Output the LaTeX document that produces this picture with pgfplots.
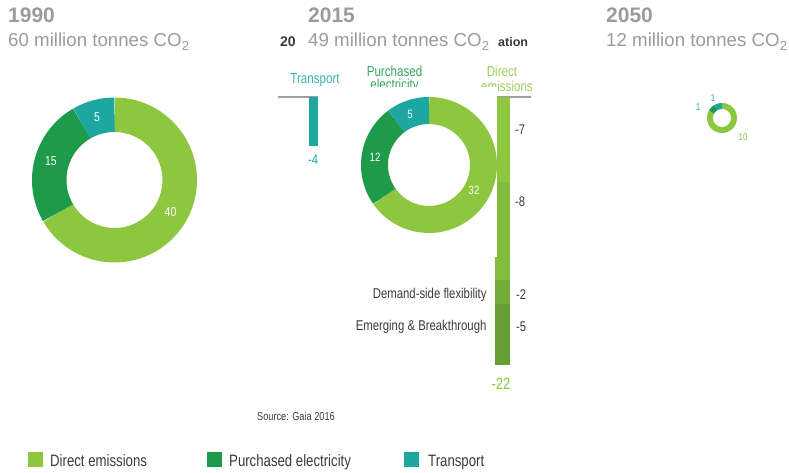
\documentclass[border=0pt]{standalone}
\usepackage{pgfplots}
\pgfplotsset{compat=1.18}
\usepackage{fontspec}
\setmainfont{Liberation Sans}
\newfontfamily\cond[FakeStretch=0.8]{Liberation Sans}
\definecolor{lg}{HTML}{8DC63F}
\definecolor{dg}{HTML}{1E9B4A}
\definecolor{tl}{HTML}{1CA7A1}
\definecolor{tgrey}{HTML}{9B9B9B}
\definecolor{dark}{HTML}{3A3A3A}
\definecolor{wA}{HTML}{8DC63F}
\definecolor{wB}{HTML}{81BC3C}
\definecolor{wC}{HTML}{73AD38}
\definecolor{wD}{HTML}{66A034}
\pgfplotsset{pix/.style={scale only axis, width=789pt, height=473pt,
  xmin=0, xmax=789, ymin=0, ymax=473, y dir=reverse,
  axis lines=none, clip=false, at={(0pt,0pt)}, anchor=south west}}
% donut segment: cx cy r width start end colour
\newcommand{\seg}[7]{\addplot[draw=#7, line width=#4pt, domain=#5:#6, samples=60] ({#1+#3*sin(x)},{#2-#3*cos(x)});}
\newcommand{\fs}[1]{\fontsize{#1}{#1}\selectfont}
\begin{document}
\begin{tikzpicture}
\useasboundingbox (0,0) rectangle (789pt,473pt);
% ---------- background layer (partly hidden waterfall) ----------
\begin{axis}[pix]
  \addplot[draw=gray!75, line width=1.5pt] coordinates {(278,97) (531,97)};
  \node[anchor=base west, inner sep=0pt, font=\bfseries\fs{14}, text=dark] at (axis cs:280,47) {20};
  \node[anchor=base west, inner sep=0pt, font=\bfseries\fs{12.5}, text=dark] at (axis cs:498,47) {ation};
  \node[font=\cond\fs{14.5}, text=tl!85!white] at (axis cs:315,80) {Transport};
  \node[font=\cond\fs{14.5}, text=dg!90!white] at (axis cs:394.5,71) {Purchased};
  \node[font=\cond\fs{14.5}, text=dg!90!white] at (axis cs:394.5,86) {electricity};
  \node[font=\cond\fs{14.5}, text=lg!85!white] at (axis cs:502,71) {Direct};
  \node[font=\cond\fs{14.5}, text=lg!85!white] at (axis cs:507,86) {emissions};
  \node[font=\cond\fs{14}, text=tl] at (axis cs:313,160) {-4};
\end{axis}
% ---------- waterfall bars ----------
\begin{axis}[scale only axis, width=789pt, height=268pt, xmin=0, xmax=789,
  ymin=-22, ymax=0, axis lines=none, clip=false, at={(0pt,108pt)}, anchor=south west]
  \addplot[fill=tl, draw=none] coordinates {(309,0) (324,0) (324,-4) (309,-4)};
  \addplot[fill=wA, draw=none] coordinates {(495,0) (510,0) (510,-7) (495,-7)};
  \addplot[fill=wB, draw=none] coordinates {(495,-7) (510,-7) (510,-15) (495,-15)};
  \addplot[fill=wC, draw=none] coordinates {(495,-15) (510,-15) (510,-17) (495,-17)};
  \addplot[fill=wD, draw=none] coordinates {(495,-17) (510,-17) (510,-22) (495,-22)};
\end{axis}
% ---------- foreground ----------
\begin{axis}[pix]
  \addplot[fill=white, draw=none] coordinates {(318,87) (497,87) (497,257) (318,257)};
  % 1990: 40, 15, 5 (total 60)
  \seg{114.5}{180}{65.25}{34.5}{0}{360*40/60}{lg}
  \seg{114.5}{180}{65.25}{34.5}{360*40/60}{360*55/60}{dg}
  \seg{114.5}{180}{65.25}{34.5}{360*55/60}{360}{tl}
  % 2015: 32, 12, 5 (total 49)
  \seg{429}{165}{54.5}{27}{0}{360*32/49}{lg}
  \seg{429}{165}{54.5}{27}{360*32/49}{360*44/49}{dg}
  \seg{429}{165}{54.5}{27}{360*44/49}{360}{tl}
  % 2050: 10, 1, 1 (total 12)
  \seg{722}{118}{12}{6}{0}{360*10/12}{lg}
  \seg{722}{118}{12}{6}{360*10/12}{360*11/12}{dg}
  \seg{722}{118}{12}{6}{360*11/12}{360}{tl}
  % donut labels
  \node[font=\cond\fs{13}, text=white] at (axis cs:170.5,212) {40};
  \node[font=\cond\fs{13}, text=white] at (axis cs:51,161) {15};
  \node[font=\cond\fs{13}, text=white] at (axis cs:97,117) {5};
  \node[font=\cond\fs{12}, text=white] at (axis cs:474,190) {32};
  \node[font=\cond\fs{12}, text=white] at (axis cs:375,157) {12};
  \node[font=\cond\fs{12}, text=white] at (axis cs:410,114) {5};
  \node[font=\cond\fs{10}, text=tl!80!lg] at (axis cs:698,107) {1};
  \node[font=\cond\fs{10}, text=tl!80!lg] at (axis cs:713,98) {1};
  \node[font=\cond\fs{10}, text=lg] at (axis cs:743,137) {10};
  % titles
  \node[anchor=base west, inner sep=0pt, font=\bfseries\fs{21}, text=tgrey] at (axis cs:8,23) {1990};
  \node[anchor=base west, inner sep=0pt, font=\fs{18.7}, text=tgrey] at (axis cs:8,47) {60 million tonnes CO\textsubscript{2}};
  \node[anchor=base west, inner sep=0pt, font=\bfseries\fs{21}, text=tgrey] at (axis cs:308,23) {2015};
  \node[anchor=base west, inner sep=0pt, font=\fs{18.7}, text=tgrey] at (axis cs:308,47) {49 million tonnes CO\textsubscript{2}};
  \node[anchor=base west, inner sep=0pt, font=\bfseries\fs{21}, text=tgrey] at (axis cs:606,23) {2050};
  \node[anchor=base west, inner sep=0pt, font=\fs{18.7}, text=tgrey] at (axis cs:606,47) {12 million tonnes CO\textsubscript{2}};
  % waterfall value labels
  \node[font=\cond\fs{14}, text=dark] at (axis cs:520,130) {-7};
  \node[font=\cond\fs{14}, text=dark] at (axis cs:520,202) {-8};
  \node[font=\cond\fs{14}, text=dark] at (axis cs:521,295) {-2};
  \node[font=\cond\fs{14}, text=dark] at (axis cs:521,327) {-5};
  \node[font=\cond\fs{16.4}, text=lg] at (axis cs:501,384) {-22};
  \node[anchor=east, font=\cond\fs{14.2}, text=dark] at (axis cs:490,295) {Demand-side flexibility};
  \node[anchor=east, font=\cond\fs{14.2}, text=dark] at (axis cs:490,327) {Emerging \& Breakthrough};
  \node[anchor=west, inner sep=0pt, font=\cond\fs{11.5}, text=dark] at (axis cs:257,416) {Source: Gaia 2016};
  % legend
  \node[fill=lg, minimum size=15pt, inner sep=0pt] at (axis cs:35.5,459.5) {};
  \node[anchor=base west, inner sep=0pt, font=\cond\fs{16.5}, text=dark] at (axis cs:50,466) {Direct emissions};
  \node[fill=dg, minimum size=15pt, inner sep=0pt] at (axis cs:214,459.5) {};
  \node[anchor=base west, inner sep=0pt, font=\cond\fs{16.5}, text=dark] at (axis cs:229,466) {Purchased electricity};
  \node[fill=tl, minimum size=15pt, inner sep=0pt] at (axis cs:411,459.5) {};
  \node[anchor=base west, inner sep=0pt, font=\cond\fs{16.5}, text=dark] at (axis cs:428,466) {Transport};
\end{axis}
\end{tikzpicture}
\end{document}
